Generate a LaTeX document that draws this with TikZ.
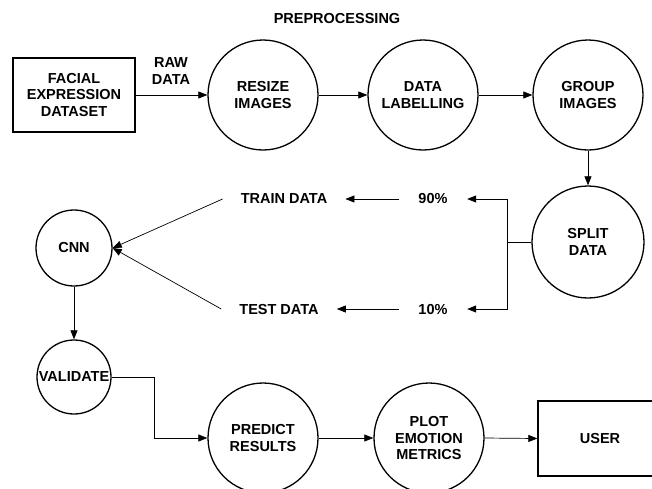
\documentclass[tikz,border=0pt]{standalone}
\usepackage{fontspec}
\setmainfont{Liberation Sans}
\usetikzlibrary{arrows.meta,calc}
\begin{document}
\begin{tikzpicture}[x=1pt,y=-1pt,
  txt/.style={font=\bfseries\fontsize{14.5}{16.5}\selectfont, align=center},
  circ/.style={txt, circle, draw, line width=1.3pt, inner sep=0pt},
  bigc/.style={circ, minimum size=110pt},
  smallc/.style={circ, minimum size=75pt},
  boxn/.style={txt, rectangle, draw, line width=1.3pt},
  conn/.style={line width=0.7pt, -{Triangle[length=9pt,width=7pt]}},
  plain/.style={line width=0.7pt},
  pct/.style={txt, minimum width=68pt, inner sep=0pt},
  dlab/.style={txt, inner xsep=18pt, inner ysep=0pt}
]
\clip (0,0) rectangle (652,488);
\fill[white] (0,0) rectangle (652,488);

\node[txt] (pre) at (337,19) {PREPROCESSING};
\node[boxn, minimum width=122pt, minimum height=74pt] (fac) at (74,95) {FACIAL\\EXPRESSION\\DATASET};
\node[txt] (raw) at (171,71) {RAW\\DATA};
\node[bigc] (resize) at (263,95) {RESIZE\\IMAGES};
\node[bigc] (label) at (423,95) {DATA\\LABELLING};
\node[bigc] (group) at (588,95) {GROUP\\IMAGES};
\node[bigc, minimum size=112pt] (split) at (588,242) {SPLIT\\DATA};
\node[pct] (p90) at (433,199) {90\%};
\node[pct] (p10) at (433,309) {10\%};
\node[dlab] (train) at (284,199) {TRAIN DATA};
\node[dlab] (test) at (279,309) {TEST DATA};
\node[smallc, minimum size=76pt] (cnn) at (74,248) {CNN};
\node[smallc, minimum size=74pt] (val) at (74,377) {VALIDATE};
\node[bigc] (predict) at (263,438) {PREDICT\\RESULTS};
\node[bigc] (plot) at (429,438) {PLOT\\EMOTION\\METRICS};
\node[boxn, minimum width=124pt, minimum height=75pt] (user) at (600,438.5) {USER};

\draw[conn] (fac.east) -- (resize.west);
\draw[conn] (resize.east) -- (label.west);
\draw[conn] (label.east) -- (group.west);
\draw[conn] (group.south) -- (split.north);
\coordinate (fork) at ($(split.west)+(-24,0)$);
\draw[plain] (split.west) -- (fork);
\draw[conn] (fork) |- (p90.east);
\draw[conn] (fork) |- (p10.east);
\draw[conn] (p90.west) -- (train.east);
\draw[conn] (p10.west) -- (test.east);
\draw[conn] (train.west) -- (cnn.east);
\draw[conn] (test.west) -- (cnn.east);
\draw[conn] (cnn.south) -- (val.north);
\coordinate (bend) at ($(val.east)+(43,0)$);
\draw[conn] (val.east) -- (bend) |- (predict.west);
\draw[conn] (predict.east) -- (plot.west);
\draw[conn] (plot.east) -- (user.west);
\end{tikzpicture}
\end{document}
